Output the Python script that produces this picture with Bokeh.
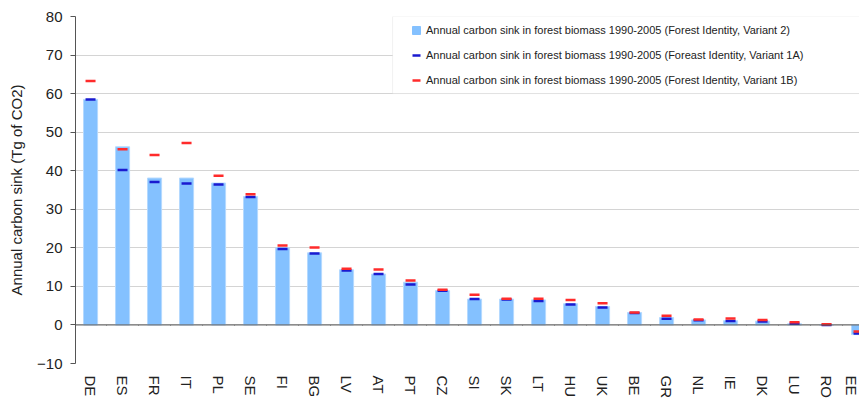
from bokeh.plotting import figure
from bokeh.models import (Range1d, FixedTicker, BoxAnnotation, Legend, LegendItem,
                          Span, ColumnDataSource)
from bokeh.embed import file_html
from bokeh.resources import INLINE

countries = ["DE", "ES", "FR", "IT", "PL", "SE", "FI", "BG", "LV", "AT", "PT", "CZ", "SI",
             "SK", "LT", "HU", "UK", "BE", "GR", "NL", "IE", "DK", "LU", "RO", "EE"]
variant2 = [58.5, 46.2, 38.1, 38.1, 36.8, 33.3, 20.0, 18.7, 14.3, 13.2, 11.1, 8.9, 6.7,
            6.7, 6.5, 5.5, 4.8, 3.2, 1.9, 1.3, 1.1, 1.0, 0.3, 0.0, -2.5]
variant1a = [58.5, 40.2, 37.1, 36.7, 36.4, 33.2, 19.7, 18.5, 14.1, 13.2, 10.5, 8.9, 6.7,
             6.6, 6.2, 5.3, 4.5, 3.1, 1.6, 1.2, 1.0, 0.9, 0.3, 0.0, -2.2]
variant1b = [63.3, 45.6, 44.1, 47.2, 38.7, 33.9, 20.6, 20.1, 14.6, 14.4, 11.5, 9.1, 7.8,
             6.8, 6.8, 6.5, 5.6, 3.2, 2.4, 1.4, 1.7, 1.3, 0.7, 0.2, -1.7]
y_ticks = [-10, 0, 10, 20, 30, 40, 50, 60, 70, 80]
labels = ["Annual carbon sink in forest biomass 1990-2005 (Forest Identity, Variant 2)",
          "Annual carbon sink in forest biomass 1990-2005 (Foreast Identity, Variant 1A)",
          "Annual carbon sink in forest biomass 1990-2005 (Forest Identity, Variant 1B)"]

FONT = "Liberation Sans"
BAR = "#84c1ff"
BLUE = "#1a1ad0"
RED = "#ff2b2b"

xs = list(range(len(countries)))
src = ColumnDataSource(dict(x=xs, v2=variant2, v1a=variant1a, v1b=variant1b))

p = figure(width=859, height=401, output_backend="svg", toolbar_location=None,
           x_range=Range1d(-0.47, 24.03), y_range=Range1d(-10, 80),
           min_border_left=75, min_border_right=0, min_border_top=16, min_border_bottom=37)
p.outline_line_color = None
p.background_fill_color = "white"

bars = p.vbar(x="x", top="v2", bottom=0, width=0.44, source=src,
              fill_color=BAR, line_color="#b4d9ff", line_width=1)
r1a = p.scatter(x="x", y="v1a", marker="dash", size=10, line_width=2.5,
                line_color=BLUE, source=src)
r1b = p.scatter(x="x", y="v1b", marker="dash", size=10, line_width=2.5,
                line_color=RED, source=src)

# zero line with category separator ticks
p.add_layout(Span(location=0, dimension="width", line_color="#555555", line_width=1))
bounds = [i + 0.5 for i in xs[:-1]]
p.segment(x0=bounds, y0=[0] * len(bounds), x1=bounds, y1=[-0.14] * len(bounds),
          line_color="#555555", line_width=1)

# axes
p.yaxis.ticker = FixedTicker(ticks=y_ticks)
p.yaxis.major_tick_out = 5
p.yaxis.major_tick_in = 0
p.yaxis.minor_tick_line_color = None
p.yaxis.axis_line_color = "#555555"
p.yaxis.major_tick_line_color = "#555555"
p.yaxis.major_label_text_font = FONT
p.yaxis.major_label_text_font_size = "15px"
p.yaxis.major_label_text_color = "#222222"
p.yaxis.major_label_standoff = 8
p.yaxis.axis_label = "Annual carbon sink (Tg of CO2)"
p.yaxis.axis_label_text_font = FONT
p.yaxis.axis_label_text_font_size = "15px"
p.yaxis.axis_label_text_font_style = "normal"
p.yaxis.axis_label_text_color = "#222222"
p.yaxis.axis_label_standoff = 9

p.xaxis.ticker = FixedTicker(ticks=xs)
p.xaxis.major_label_overrides = {i: c for i, c in enumerate(countries)}
p.xaxis.major_label_orientation = "vertical"
p.xaxis.major_tick_line_color = None
p.xaxis.major_tick_out = 0
p.xaxis.major_tick_in = 0
p.xaxis.minor_tick_line_color = None
p.xaxis.axis_line_color = None
p.xaxis.major_label_text_font = FONT
p.xaxis.major_label_text_font_size = "15px"
p.xaxis.major_label_text_color = "#222222"
p.xaxis.major_label_standoff = 12

p.xgrid.grid_line_color = None
p.ygrid.grid_line_color = "#d4d4d4"
p.ygrid.grid_line_width = 1

# legend box
p.add_layout(BoxAnnotation(left=9.44, right=40, top=80, bottom=60,
                           fill_color="white", fill_alpha=1.0,
                           line_color="#cccccc", line_width=1))

proxy = p.scatter(x=[-100], y=[-100], marker="square", size=8,
                  fill_color=BAR, line_color=BAR)
legend = Legend(items=[LegendItem(label=labels[0], renderers=[proxy]),
                       LegendItem(label=labels[1], renderers=[r1a]),
                       LegendItem(label=labels[2], renderers=[r1b])],
                location=(331, 273), border_line_color=None, background_fill_alpha=0,
                padding=5, spacing=5, glyph_width=20, glyph_height=20, label_height=20,
                label_standoff=-5, label_text_font=FONT, label_text_font_size="11px",
                label_text_color="#222222", margin=0)
p.add_layout(legend)

open("out.html", "w").write(file_html(p, INLINE))
